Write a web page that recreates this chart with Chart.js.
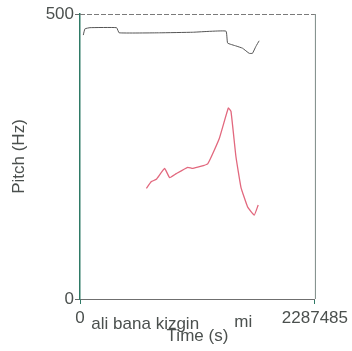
<!DOCTYPE html>
<html>
<head>
<meta charset="utf-8">
<script src="https://cdn.jsdelivr.net/npm/chart.js@4"></script>
<style>
  html, body { margin: 0; padding: 0; background: #fff; }
  #wrap { width: 352px; height: 351px; }
</style>
</head>
<body>
<div id="wrap"><canvas id="pitchChart" width="352" height="351"></canvas></div>
<script>
// time axis (s) and tick labels
const timeMax = 2.287;
const xTickValues = [0, timeMax];
const xTickLabels = ['0', '2287485'];
const yTickValues = [0, 500];

// upper (dark) trace
const darkTimes = [0.032, 0.048, 0.097, 0.356, 0.381, 0.775, 1.098, 1.421, 1.437, 1.518, 1.582, 1.647, 1.679, 1.712, 1.744];
const darkHz    = [463, 474, 476, 476, 467, 467, 468, 470, 449, 444, 440, 431, 431, 443, 453];

// pitch trace (red)
const pitchTimes = [0.646, 0.695, 0.743, 0.824, 0.872, 0.937, 1.049, 1.098, 1.243, 1.357, 1.444, 1.470, 1.518, 1.567, 1.631, 1.696, 1.735];
const pitchHz    = [194, 206, 210, 229, 213, 220, 231, 229, 237, 282, 335, 329, 250, 196, 162, 147, 165];

// word annotations under the axis
const words     = ['ali bana kizgin', 'mi'];
const wordTimes = [0.635, 1.589];

const textColor = '#4b504e';
const axisGreen = '#2f7a66';

function toPoints(xs, ys) {
  return xs.map(function (x, i) { return { x: x, y: ys[i] }; });
}

const framePlugin = {
  id: 'frame',
  afterDraw: function (chart) {
    const ctx = chart.ctx;
    const a = chart.chartArea;
    ctx.save();
    ctx.strokeStyle = '#7a7a7a';
    ctx.lineWidth = 1;
    ctx.setLineDash([5, 2]);
    ctx.beginPath();
    ctx.moveTo(a.left, a.top + 0.5);
    ctx.lineTo(a.right, a.top + 0.5);
    ctx.stroke();
    ctx.setLineDash([]);
    ctx.strokeStyle = '#7c8a86';
    ctx.beginPath();
    ctx.moveTo(a.right + 0.5, a.top);
    ctx.lineTo(a.right + 0.5, a.bottom);
    ctx.stroke();

    // words
    const xs = chart.scales.x;
    ctx.fillStyle = textColor;
    ctx.font = '17px "Liberation Sans", Arial, sans-serif';
    ctx.textAlign = 'center';
    ctx.textBaseline = 'alphabetic';
    ctx.fillText(words[0], xs.getPixelForValue(wordTimes[0]), 329);
    ctx.fillText(words[1], xs.getPixelForValue(wordTimes[1]), 327);
    ctx.restore();
  }
};

new Chart(document.getElementById('pitchChart').getContext('2d'), {
  type: 'line',
  data: {
    datasets: [
      {
        data: toPoints(darkTimes, darkHz),
        borderColor: '#555555',
        borderWidth: 1,
        pointRadius: 0,
        tension: 0.1
      },
      {
        data: toPoints(pitchTimes, pitchHz),
        borderColor: '#e2687e',
        borderWidth: 1.3,
        pointRadius: 0,
        tension: 0.1
      }
    ]
  },
  options: {
    responsive: false,
    animation: false,
    layout: { padding: { top: 14, right: 36, left: 0, bottom: 0 } },
    plugins: { legend: { display: false }, tooltip: { enabled: false } },
    scales: {
      x: {
        type: 'linear',
        min: 0,
        max: timeMax,
        afterBuildTicks: function (scale) {
          scale.ticks = xTickValues.map(function (v) { return { value: v }; });
        },
        afterFit: function (scale) { scale.height = 52; },
        ticks: {
          autoSkip: false,
          maxRotation: 0,
          padding: 4,
          color: textColor,
          font: { family: '"Liberation Sans", Arial, sans-serif', size: 17 },
          callback: function (v) { return xTickLabels[xTickValues.indexOf(v)]; }
        },
        grid: { drawOnChartArea: false, tickLength: 5, color: axisGreen },
        border: { color: '#6f6f6f', dash: [5, 2] },
        title: {
          display: true,
          text: 'Time (s)',
          color: textColor,
          font: { family: '"Liberation Sans", Arial, sans-serif', size: 17 },
          padding: { top: 0, bottom: 4 }
        }
      },
      y: {
        min: 0,
        max: 500,
        afterBuildTicks: function (scale) {
          scale.ticks = yTickValues.map(function (v) { return { value: v }; });
        },
        afterFit: function (scale) { scale.width = 80; },
        ticks: {
          padding: 1,
          color: textColor,
          font: { family: '"Liberation Sans", Arial, sans-serif', size: 17 }
        },
        grid: { drawOnChartArea: false, tickLength: 5, color: '#6a6a6a' },
        border: { color: axisGreen, width: 1.5 },
        title: {
          display: true,
          text: 'Pitch (Hz)',
          color: textColor,
          font: { family: '"Liberation Sans", Arial, sans-serif', size: 17 },
          padding: { top: 9, bottom: 0 }
        }
      }
    }
  },
  plugins: [framePlugin]
});
</script>
</body>
</html>
